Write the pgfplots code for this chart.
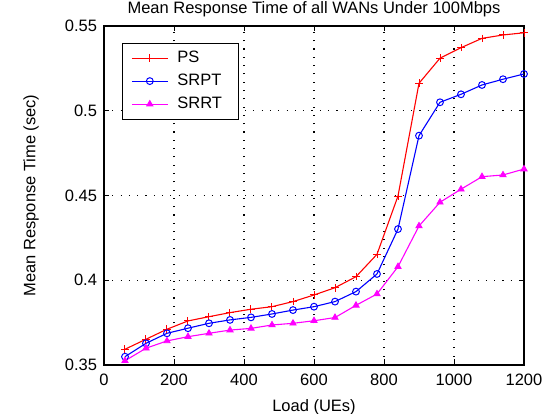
\documentclass[border=0pt]{standalone}
\usepackage{fontspec}
\setmainfont{Liberation Sans}
\usepackage{pgfplots}
\pgfplotsset{compat=1.18}

\newcommand\ff{\fontsize{16.5}{19}\selectfont}
\newcommand\lent[1]{\makebox[52pt][l]{#1}}

\definecolor{mred}{rgb}{1,0,0}
\definecolor{mblue}{rgb}{0,0,1}
\definecolor{mmag}{rgb}{1,0,1}

\begin{document}
\begin{tikzpicture}
\begin{axis}[
    scale only axis,
    width=420pt, height=339pt,
    xmin=0, xmax=1200,
    ymin=0.35, ymax=0.55,
    xtick={0,200,...,1200},
    ytick={0.35,0.4,0.45,0.5,0.55},
    yticklabels={0.35,0.4,0.45,0.5,0.55},
    /pgf/number format/1000 sep={},
    /pgf/number format/assume math mode=true,
    tick align=inside,
    major tick length=5.5pt,
    tick style={black, line width=0.9pt},
    axis line style={black, line width=1.3pt},
    grid=major,
    major grid style={black, line width=1.1pt, dash pattern=on 1.1pt off 7.2pt},
    tick label style={font=\ff},
    yticklabel style={xshift=-3.5pt},
    xticklabel style={yshift=-5pt},
    title={Mean Response Time of all WANs Under 100Mbps},
    title style={font=\ff, at={(axis description cs:0.5,1)}, anchor=base, yshift=6pt},
    xlabel={Load (UEs)},
    xlabel style={font=\ff, at={(axis description cs:0.5,0)}, anchor=base, yshift=-46.5pt},
    ylabel={Mean Response Time (sec)},
    ylabel style={font=\ff, at={(axis description cs:-0.1636,0.5)}, anchor=base},
    legend style={
        at={(axis description cs:0.043,0.951)}, anchor=north west,
        draw=black, line width=1pt, fill=white,
        inner xsep=8.7pt, inner ysep=7.5pt,
        row sep=8pt, font=\ff,
        nodes={inner sep=0pt, text height=12pt, text depth=3pt},
        /tikz/every odd column/.append style={column sep=9pt},
    },
    legend cell align=left,
    legend image code/.code={
        \draw[mark repeat=2, mark phase=2] plot coordinates {(0pt,0pt) (18pt,0pt) (36pt,0pt)};
    },
]
\addplot[mred, line width=1.1pt, mark=+, mark size=3.8pt, mark options={solid, line width=1pt}] coordinates {
(60,0.3593) (120,0.3652) (180,0.3711) (240,0.3760) (300,0.3785)
(360,0.3809) (420,0.3829) (480,0.3844) (540,0.3874) (600,0.3913)
(660,0.3956) (720,0.4021) (780,0.4153) (840,0.4497) (900,0.5162)
(960,0.5310) (1020,0.5372) (1080,0.5427) (1140,0.5447) (1200,0.5460)
};
\addlegendentry{\lent{PS}}
\addplot[mblue, line width=1.1pt, mark=o, mark size=3.4pt, mark options={solid, line width=1pt}] coordinates {
(60,0.3549) (120,0.3628) (180,0.3687) (240,0.3717) (300,0.3746)
(360,0.3766) (420,0.3781) (480,0.3801) (540,0.3824) (600,0.3844)
(660,0.3874) (720,0.3933) (780,0.4037) (840,0.4302) (900,0.4853)
(960,0.5050) (1020,0.5097) (1080,0.5152) (1140,0.5186) (1200,0.5217)
};
\addlegendentry{\lent{SRPT}}
\addplot[mmag, line width=1.1pt, mark=triangle*, mark size=3.6pt, mark options={solid, line width=0.8pt}] coordinates {
(60,0.3525) (120,0.3599) (180,0.3642) (240,0.3667) (300,0.3687)
(360,0.3706) (420,0.3716) (480,0.3736) (540,0.3746) (600,0.3761)
(660,0.3780) (720,0.3852) (780,0.3919) (840,0.4080) (900,0.4320)
(960,0.4460) (1020,0.4537) (1080,0.4611) (1140,0.4621) (1200,0.4656)
};
\addlegendentry{\lent{SRRT}}
\coordinate (ll) at (rel axis cs:0,0);
\coordinate (ur) at (rel axis cs:1,1);
\end{axis}
\pgfresetboundingbox
\path ([shift={(-104pt,-49pt)}]ll) rectangle ([shift={(23pt,26pt)}]ur);
\end{tikzpicture}
\end{document}
